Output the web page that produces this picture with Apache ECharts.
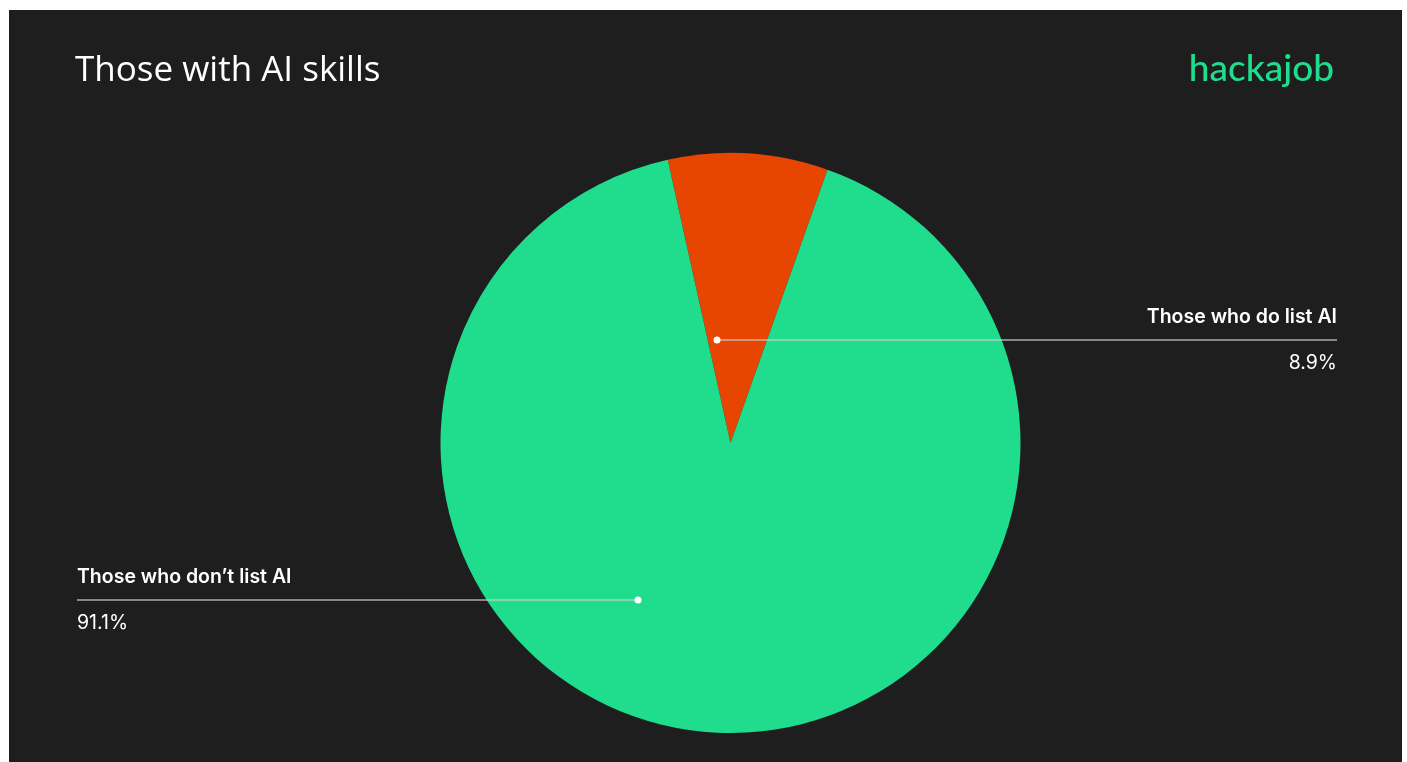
<!DOCTYPE html>
<html>
<head>
<meta charset="utf-8">
<script src="https://cdn.jsdelivr.net/npm/echarts@6/dist/echarts.min.js"></script>
<style>
  html, body { margin: 0; padding: 0; background: #ffffff; }
  #chart { position: absolute; left: 9px; top: 10px; width: 1393px; height: 752px; background: #1e1e1e; }
</style>
</head>
<body>
<div id="chart"></div>
<script>
// Share of profiles listing AI skills
const categories = ["Those who do list AI", "Those who don\u2019t list AI"];
const values = [8.9, 91.1];
const sliceColors = ["#e64502", "#1fdd8d"];

const titleText = "Those with AI skills";
const brandText = "hackajob";

// label anchors: where each leader line starts (dot) and where its text sits
const labelAnchors = [
  { dotX: 708, lineY: 330, textX: 1328, align: "right" },
  { dotX: 629, lineY: 590, textX: 68, align: "left" }
];

const chart = echarts.init(document.getElementById("chart"), null, { renderer: "canvas" });

const pieData = categories.map((name, i) => ({
  name: name,
  value: values[i],
  itemStyle: { color: sliceColors[i] }
}));

// leader lines and their end dots sit above the slices
const leaderGraphics = [];
labelAnchors.forEach(a => {
  leaderGraphics.push({
    type: "line",
    z: 100,
    shape: { x1: a.dotX, y1: a.lineY, x2: a.textX, y2: a.lineY },
    style: { stroke: "rgba(205,205,205,0.8)", lineWidth: 1.5 }
  });
  leaderGraphics.push({
    type: "circle",
    z: 101,
    shape: { cx: a.dotX, cy: a.lineY, r: 3.5 },
    style: { fill: "#ffffff" }
  });
});

chart.setOption({
  animation: false,
  backgroundColor: "#1e1e1e",
  graphic: [
    {
      type: "text",
      left: 66,
      top: 44,
      style: {
        text: titleText,
        fill: "#ffffff",
        font: "500 35px 'Open Sans', sans-serif"
      }
    },
    {
      type: "text",
      right: 68,
      top: 41,
      style: {
        text: brandText,
        fill: "#1fdd8d",
        font: "500 37px 'Lato', sans-serif"
      }
    }
  ].concat(leaderGraphics),
  series: [
    {
      type: "pie",
      center: [721.5, 433],
      radius: [0, 290],
      startAngle: 102.5,
      clockwise: true,
      data: pieData,
      emphasis: { disabled: true },
      label: {
        show: true,
        position: "outside",
        formatter: p => "{n|" + p.name + "}\n{v|" + p.value + "%}",
        rich: {
          n: { fontFamily: "Inter", fontSize: 19.5, fontWeight: 600, color: "#ffffff", lineHeight: 46 },
          v: { fontFamily: "Inter", fontSize: 19.5, fontWeight: 400, color: "#ffffff", lineHeight: 46 }
        }
      },
      labelLine: { show: false },
      labelLayout: params => {
        const a = labelAnchors[params.dataIndex];
        return {
          x: a.textX,
          y: a.lineY,
          align: a.align,
          verticalAlign: "middle"
        };
      }
    }
  ]
});
</script>
</body>
</html>
